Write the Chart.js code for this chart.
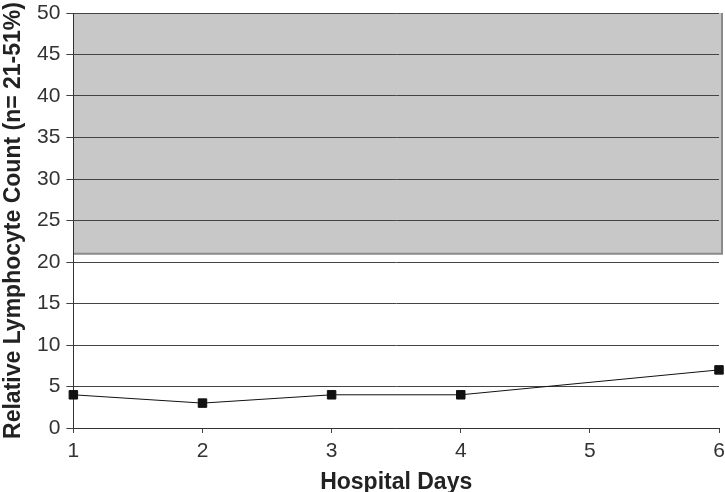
<html>
<head>
  <script src="https://cdn.jsdelivr.net/npm/chart.js@4"></script>
  <style>
    body { margin: 0; background: white; }
  </style>
</head>
<body>
<canvas id="myChart" width="725" height="492"></canvas>
<script>
  // hospital day and relative lymphocyte count (%)
  var days = [1, 2, 3, 4, 6];
  var lymph = [4, 3, 4, 4, 7];
  var yTicks = [0, 5, 10, 15, 20, 25, 30, 35, 40, 45, 50];
  var xTicks = [1, 2, 3, 4, 5, 6];
  // normal range band
  var normalLow = 21;
  var normalHigh = 50;

  var bandPlugin = {
    id: 'band',
    beforeDraw: function (chart) {
      var ctx = chart.ctx;
      var x = chart.scales.x, y = chart.scales.y;
      var top = y.getPixelForValue(normalHigh);
      var bot = y.getPixelForValue(normalLow);
      var left = x.left, right = x.right + 3;
      ctx.save();
      ctx.fillStyle = '#c8c8c8';
      ctx.fillRect(left, top, right - left, bot - top);
      ctx.strokeStyle = '#8a8a8a';
      ctx.lineWidth = 2;
      ctx.beginPath();
      ctx.moveTo(left, bot);
      ctx.lineTo(right, bot);
      ctx.lineTo(right, top);
      ctx.stroke();
      ctx.restore();
    }
  };

  var tickFont = { family: 'Liberation Sans', size: 21, lineHeight: 1 };
  var titleFont = { family: 'Liberation Sans', size: 23, weight: 'bold', lineHeight: 1 };

  var ctx = document.getElementById('myChart').getContext('2d');
  var chart = new Chart(ctx, {
    type: 'line',
    data: {
      datasets: [{
        data: days.map(function (d, i) { return { x: d, y: lymph[i] }; }),
        borderColor: '#111',
        borderWidth: 1,
        backgroundColor: '#111',
        pointStyle: 'rect',
        pointRadius: 6,
        fill: false,
        tension: 0,
        clip: false
      }]
    },
    options: {
      responsive: false,
      animation: false,
      layout: { autoPadding: false, padding: { top: 0, right: 0, left: 2, bottom: -2 } },
      plugins: { legend: { display: false }, tooltip: { enabled: false } },
      scales: {
        x: {
          type: 'linear',
          min: 1, max: 6,
          afterBuildTicks: function (s) { s.ticks = xTicks.map(function (v) { return { value: v }; }); },
          afterFit: function (s) { s.paddingRight = 6; },
          grid: { drawOnChartArea: false, drawTicks: true, tickLength: 5, color: '#444' },
          border: { display: true, color: '#333', width: 1 },
          ticks: { font: tickFont, color: '#333', padding: 8 },
          title: { display: true, text: 'Hospital Days', font: titleFont, color: '#222', padding: { top: 1, bottom: 0 } }
        },
        y: {
          min: 0, max: 50,
          afterBuildTicks: function (s) { s.ticks = yTicks.map(function (v) { return { value: v }; }); },
          afterFit: function (s) { s.paddingTop = 13; },
          grid: { color: '#444', tickLength: 7 },
          border: { display: true, color: '#333', width: 1 },
          ticks: { font: tickFont, color: '#333', padding: 6 },
          title: { display: true, text: 'Relative Lymphocyte Count (n= 21-51%)', font: titleFont, color: '#222', padding: { top: 0, bottom: 6 } }
        }
      }
    },
    plugins: [bandPlugin]
  });
</script>
</body>
</html>
